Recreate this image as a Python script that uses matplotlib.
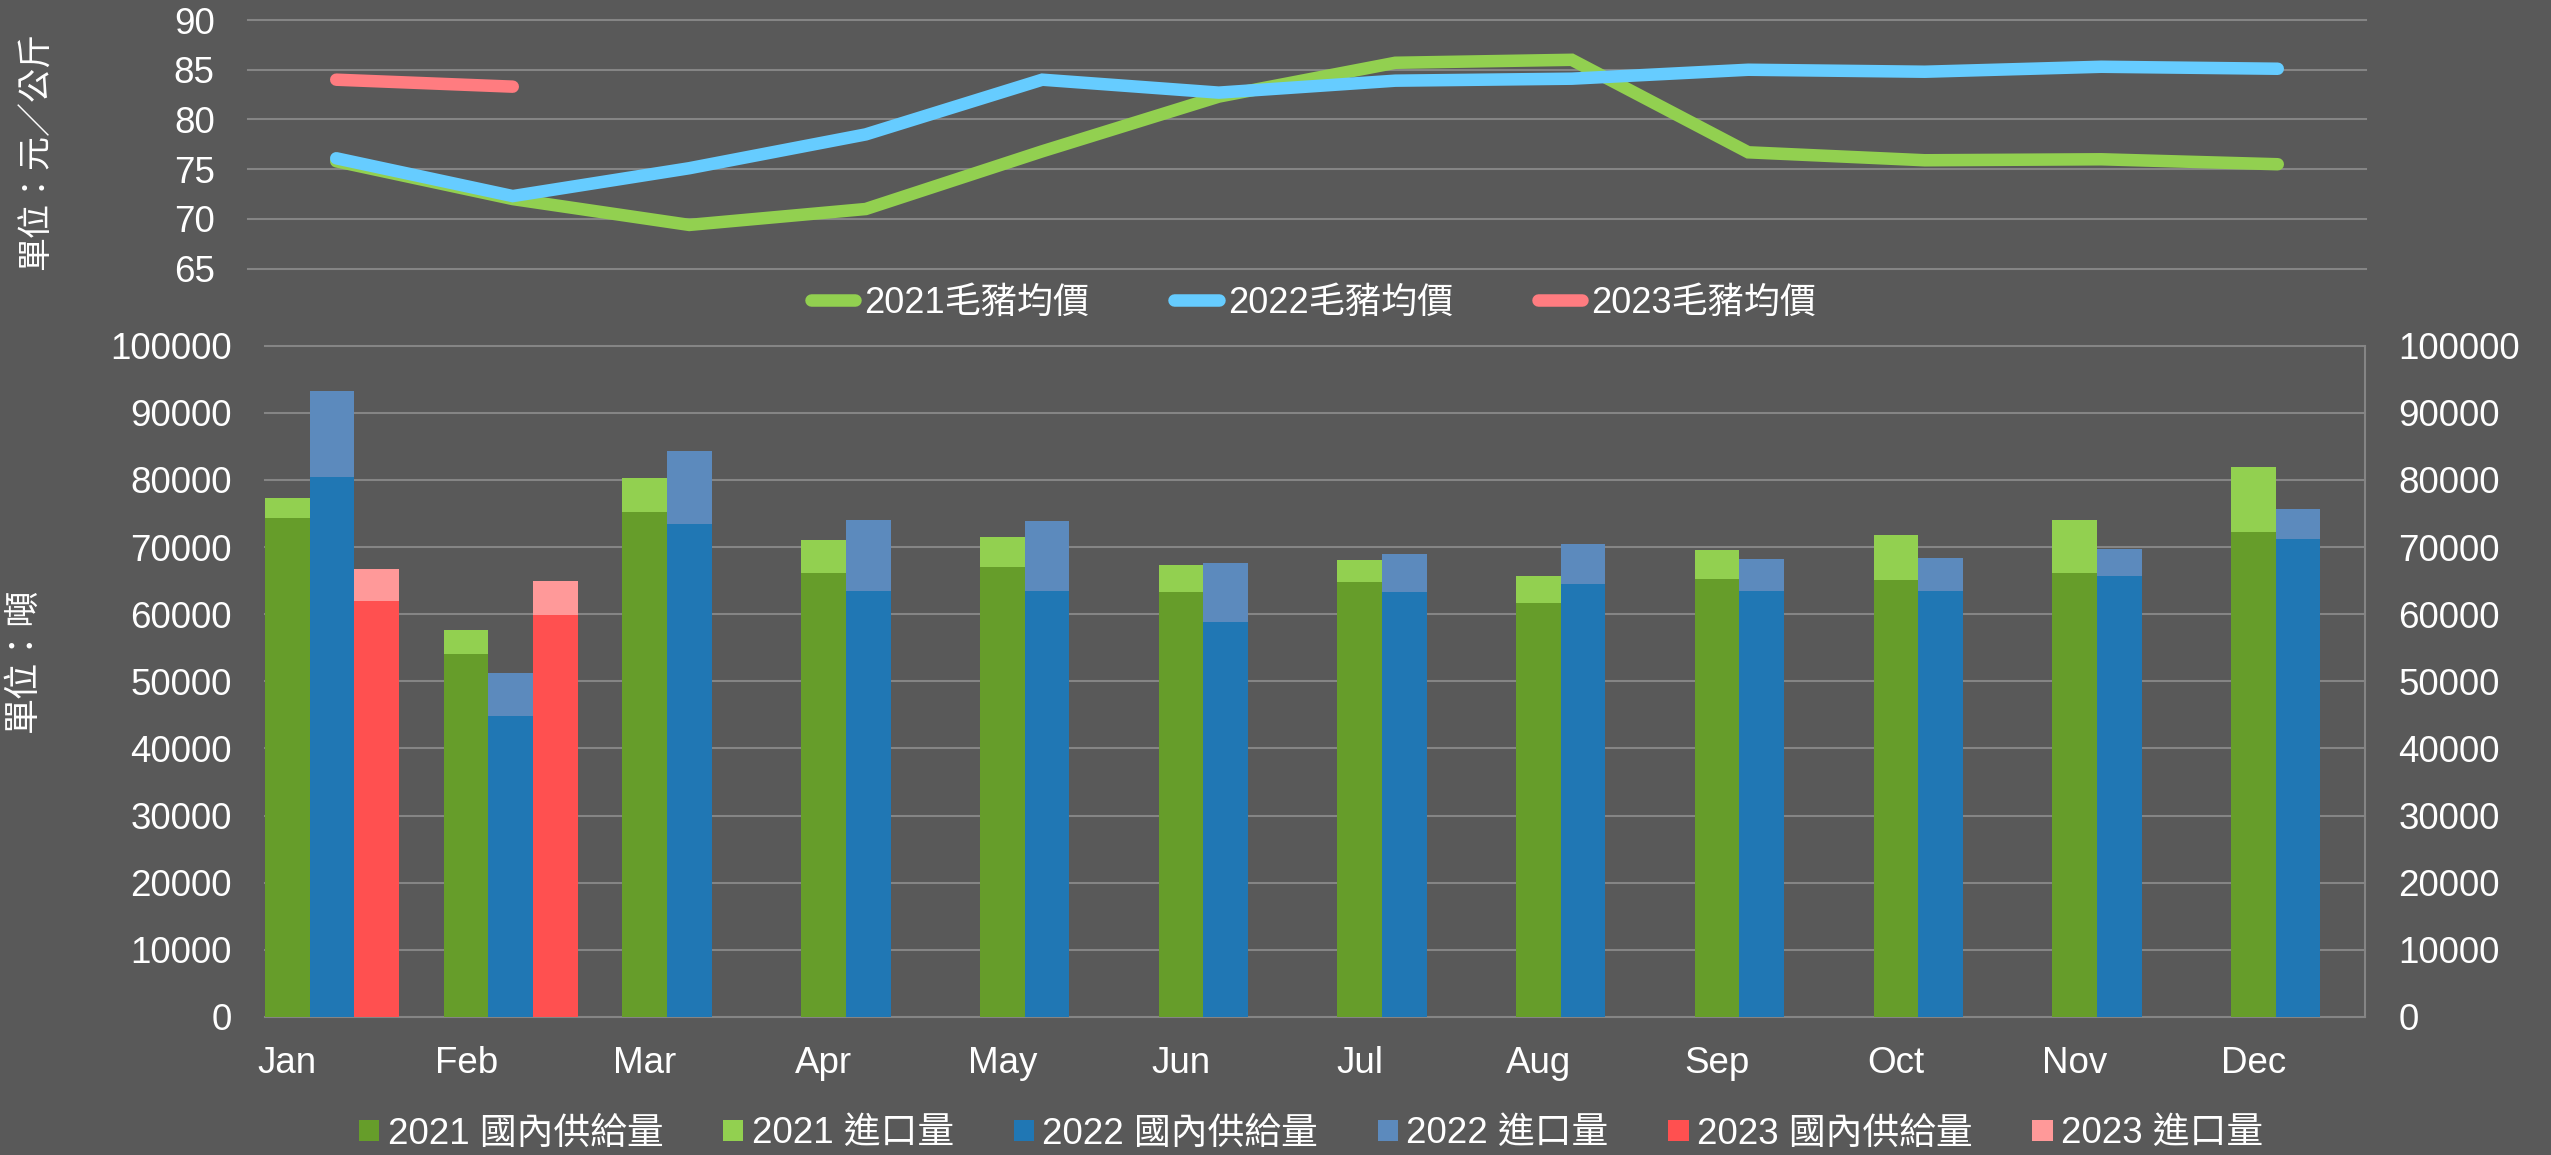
import matplotlib
matplotlib.use('Agg')
import matplotlib.pyplot as plt
import numpy as np
from matplotlib.patches import Patch
from matplotlib.lines import Line2D

months = ['Jan', 'Feb', 'Mar', 'Apr', 'May', 'Jun', 'Jul', 'Aug', 'Sep', 'Oct', 'Nov', 'Dec']

# 毛豬均價 (元/公斤)
price_2021 = [75.8, 72.0, 69.4, 71.0, 76.8, 82.3, 85.7, 86.0, 76.7, 75.9, 76.0, 75.5]
price_2022 = [76.1, 72.3, 75.1, 78.5, 84.0, 82.7, 83.9, 84.1, 85.0, 84.8, 85.3, 85.1]
price_2023 = [84.0, 83.3]

# 供給量 (噸)
dom_2021 = [74400, 54100, 75200, 66100, 67000, 63300, 64800, 61600, 65300, 65100, 66100, 72300]
imp_2021 = [2900, 3600, 5100, 4900, 4500, 4100, 3300, 4100, 4200, 6700, 7900, 9700]
dom_2022 = [80400, 44900, 73500, 63400, 63400, 58800, 63300, 64500, 63400, 63500, 65700, 71200]
imp_2022 = [12800, 6300, 10800, 10600, 10500, 8900, 5700, 5900, 4900, 4900, 4000, 4400]
dom_2023 = [61900, 59900]
imp_2023 = [4900, 5000]

line_labels = ['2021毛豬均價', '2022毛豬均價', '2023毛豬均價']
bar_labels = ['2021 國內供給量', '2021 進口量', '2022 國內供給量', '2022 進口量',
              '2023 國內供給量', '2023 進口量']

BG = '#595959'
GRID = '#858585'
C_L21, C_L22, C_L23 = '#92D050', '#66CCFF', '#FF7C80'
C_D21, C_I21 = '#669D2A', '#92D050'
C_D22, C_I22 = '#2077B4', '#5C8ABD'
C_D23, C_I23 = '#FF5050', '#FF9999'

plt.rcParams['font.family'] = ['Liberation Sans', 'Noto Sans CJK TC']

W, H = 2551, 1155
TICK_FS = 26.5
fig = plt.figure(figsize=(W / 100, H / 100), dpi=100, facecolor=BG)

# ---------------- top: price lines ----------------
ax1 = fig.add_axes([248 / W, 1 - 268.7 / H, 2118 / W, 248.7 / H], facecolor=BG)
x = np.arange(len(months))
lw = 9
ax1.plot(x, price_2021, color=C_L21, lw=lw, solid_capstyle='round', solid_joinstyle='miter', zorder=3)
ax1.plot(x, price_2022, color=C_L22, lw=lw, solid_capstyle='round', solid_joinstyle='miter', zorder=4)
ax1.plot(x[:len(price_2023)], price_2023, color=C_L23, lw=lw, solid_capstyle='round', zorder=5)
ax1.set_xlim(-0.5, 11.5)
ax1.set_ylim(65, 90)
ax1.set_yticks(np.arange(65, 91, 5))
ax1.set_xticks([])
ax1.yaxis.grid(True, color=GRID, lw=1.5)
ax1.set_axisbelow(True)
for s in ax1.spines.values():
    s.set_visible(False)
ax1.tick_params(axis='y', length=0, pad=24, labelsize=TICK_FS, labelcolor='white')
for gl in ax1.yaxis.get_gridlines():
    gl.set_clip_on(False)

# ---------------- bottom: supply bars ----------------
ax2 = fig.add_axes([265 / W, 1 - 1017 / H, 2100 / W, 671.3 / H], facecolor=BG)
bw = 0.25
ax2.bar(x, dom_2021, width=bw, color=C_D21, zorder=3)
ax2.bar(x, imp_2021, width=bw, bottom=dom_2021, color=C_I21, zorder=3)
ax2.bar(x + bw, dom_2022, width=bw, color=C_D22, zorder=3)
ax2.bar(x + bw, imp_2022, width=bw, bottom=dom_2022, color=C_I22, zorder=3)
x23 = x[:len(dom_2023)] + 2 * bw
ax2.bar(x23, dom_2023, width=bw, color=C_D23, zorder=3)
ax2.bar(x23, imp_2023, width=bw, bottom=dom_2023, color=C_I23, zorder=3)
ax2.set_xlim(-0.125, 11.625)
ax2.set_ylim(0, 100000)
ax2.set_yticks(np.arange(0, 100001, 10000))
ax2.set_yticklabels([str(v) for v in range(0, 100001, 10000)])
ax2.set_xticks(x)
ax2.set_xticklabels(months)
ax2.yaxis.grid(True, color=GRID, lw=1.5)
ax2.set_axisbelow(True)
for k, s in ax2.spines.items():
    s.set_visible(k in ('right', 'bottom'))
for k in ('right', 'bottom'):
    ax2.spines[k].set_color(GRID)
    ax2.spines[k].set_linewidth(1.5)
ax2.tick_params(axis='y', length=0, pad=24, labelsize=TICK_FS, labelcolor='white',
                labelleft=True, labelright=True)
ax2.tick_params(axis='x', length=0, pad=21, labelsize=TICK_FS, labelcolor='white')
for gl in ax2.yaxis.get_gridlines():
    gl.set_clip_on(False)

# axis titles
fig.text(37 / W, 1 - 151 / H, '單位：元／公斤', rotation=90, ha='center', va='center',
         fontsize=24.5, color='white')
fig.text(23 / W, 1 - 660 / H, '單位：噸', rotation=90, ha='center', va='center',
         fontsize=26, color='white')

# legends
lh = [Line2D([], [], color=c, lw=lw, solid_capstyle='round') for c in (C_L21, C_L22, C_L23)]
fig.legend(lh, line_labels, loc='center', bbox_to_anchor=(1313.5 / W, 1 - 303 / H), ncol=3,
           frameon=False, fontsize=26, handlelength=1.23, handletextpad=0.25,
           columnspacing=2.35, labelcolor='white', borderaxespad=0, borderpad=0)

bh = [Patch(facecolor=c) for c in (C_D21, C_I21, C_D22, C_I22, C_D23, C_I23)]
fig.legend(bh, bar_labels, loc='center', bbox_to_anchor=(1311 / W, 1 - 1134 / H), ncol=6,
           frameon=False, fontsize=26.5, handlelength=0.55, handleheight=0.52,
           handletextpad=0.22, columnspacing=1.63, labelcolor='white',
           borderaxespad=0, borderpad=0)

fig.savefig('out.png', dpi=100, facecolor=BG)
